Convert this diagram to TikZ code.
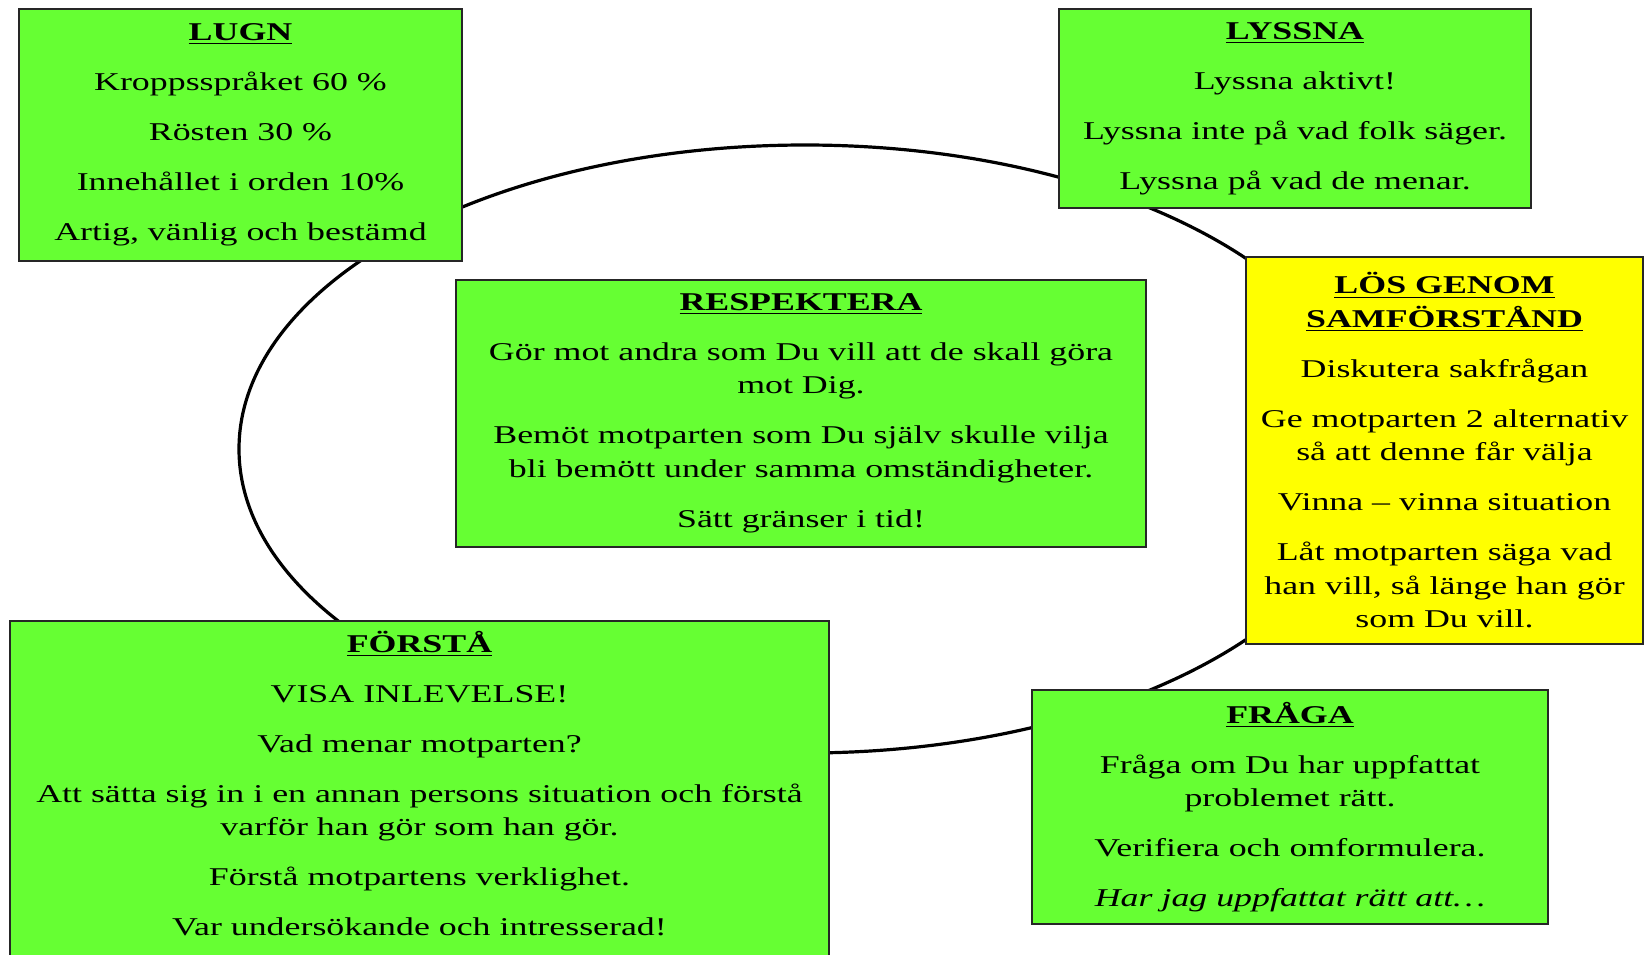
\documentclass[tikz,border=0pt]{standalone}
\usepackage{fontspec}
\setmainfont{Liberation Serif}[FakeStretch=1.4]
\usepackage{tikz}
\definecolor{cardgreen}{RGB}{102,255,51}
\definecolor{cardyellow}{RGB}{255,255,0}
\newcommand{\cardfont}{\fontsize{12.8}{16.75}\selectfont}
\newcommand{\pgap}{\\[8.25pt]}
\newcommand{\heading}[1]{\textbf{\underline{#1}}}
\tikzstyle{card} = [draw=black!85, line width=1pt, fill=cardgreen, align=center, font=\cardfont, inner sep=0pt]
\tikzstyle{solve} = [card, fill=cardyellow]
\tikzstyle{ring} = [draw=black, line width=1.6pt]

\begin{document}
\begin{tikzpicture}[x=0.5pt,y=-0.5pt]
    \useasboundingbox (0,0) rectangle (1644,954);
    \clip (0,0) rectangle (1644,954);
    \draw[ring] (805,449) ellipse [x radius=283pt, y radius=152pt];
    \node[card,minimum width=221.5pt,minimum height=126pt](lugn) at (240.5,135){\heading{LUGN}\pgap
      Kroppsspråket 60 \%\pgap Rösten 30 \%\pgap Innehållet i orden 10\%\pgap Artig, vänlig och bestämd};
    \node[card,minimum width=236pt,minimum height=99.5pt](lyssna) at (1295,108.5){\heading{LYSSNA}\pgap
      Lyssna aktivt!\pgap Lyssna inte på vad folk säger.\pgap Lyssna på vad de menar.};
    \node[solve,minimum width=198.5pt,minimum height=193.5pt](los) at (1444.5,450.5){\heading{LÖS GENOM}\\ \heading{SAMFÖRSTÅND}\pgap
      Diskutera sakfrågan\pgap Ge motparten 2 alternativ\\ så att denne får välja\pgap
      Vinna -- vinna situation\pgap Låt motparten säga vad\\ han vill, så länge han gör\\ som Du vill.};
    \node[card,minimum width=345pt,minimum height=133.5pt](respektera) at (801,413){\heading{RESPEKTERA}\pgap
      Gör mot andra som Du vill att de skall göra\\ mot Dig.\pgap
      Bemöt motparten som Du själv skulle vilja\\ bli bemött under samma omständigheter.\pgap Sätt gränser i tid!};
    \node[card,minimum width=409.5pt,minimum height=170.5pt](forsta) at (419.5,791.5){\heading{FÖRSTÅ}\pgap
      VISA INLEVELSE!\pgap Vad menar motparten?\pgap
      Att sätta sig in i en annan persons situation och förstå\\ varför han gör som han gör.\pgap
      Förstå motpartens verklighet.\pgap Var undersökande och intresserad!\\[-8.75pt]\mbox{}};
    \node[card,minimum width=258pt,minimum height=117pt](fraga) at (1290,807){\heading{FRÅGA}\pgap
      Fråga om Du har uppfattat\\ problemet rätt.\pgap Verifiera och omformulera.\pgap
      \textit{Har jag uppfattat rätt att\dots}};
\end{tikzpicture}
\end{document}
